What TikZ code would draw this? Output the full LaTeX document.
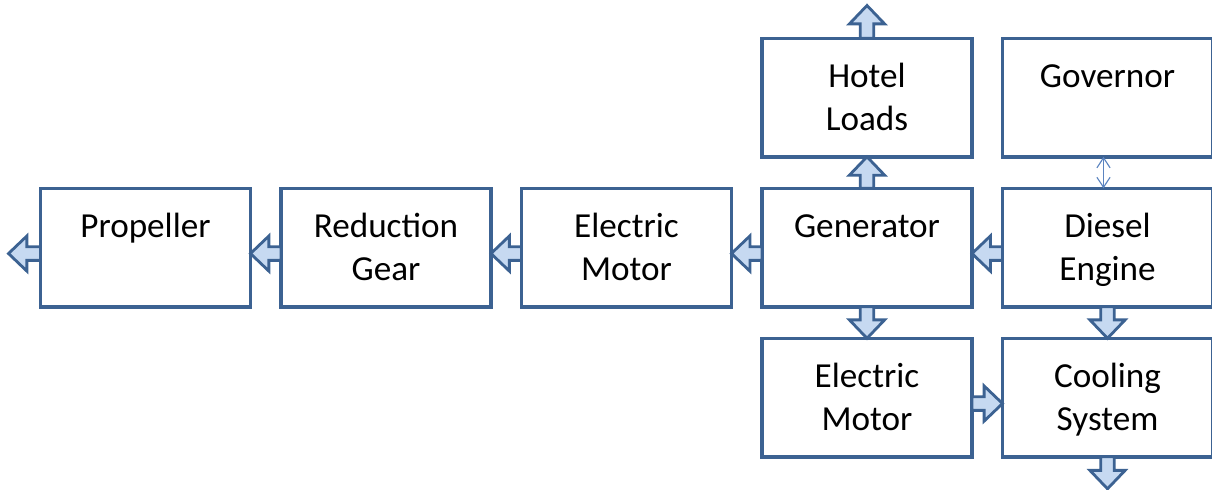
\documentclass[tikz,border=0pt]{standalone}
\usepackage{fontspec}
\setmainfont{Carlito}
\usetikzlibrary{positioning,calc,arrows.meta}

\definecolor{boxblue}{RGB}{60,98,146}
\definecolor{arrowfill}{RGB}{198,217,241}
\definecolor{linkblue}{RGB}{91,132,192}

\newcommand{\shaftw}{0.17cm}
\newcommand{\headw}{0.44cm}
\newcommand{\headl}{0.46cm}

\tikzset{
  unit/.style={draw=boxblue, line width=2.5pt, rectangle, inner sep=0pt, outer sep=0pt,
    text width=5.25cm, align=center, text height=1.225cm, text depth=1.7375cm,
    font=\fontsize{25}{30.6}\selectfont},
  flow/.style={draw=boxblue, fill=arrowfill, line width=2pt, line join=miter,
    to path={($(\tikztostart)!\shaftw!90:(\tikztotarget)$)
      -- ($(\tikztotarget)!\headl!(\tikztostart)!\shaftw!-90:(\tikztostart)$)
      -- ($(\tikztotarget)!\headl!(\tikztostart)!\headw!-90:(\tikztostart)$)
      -- (\tikztotarget)
      -- ($(\tikztotarget)!\headl!(\tikztostart)!\headw!90:(\tikztostart)$)
      -- ($(\tikztotarget)!\headl!(\tikztostart)!\shaftw!90:(\tikztostart)$)
      -- ($(\tikztostart)!\shaftw!-90:(\tikztotarget)$) -- cycle}},
}

\begin{document}
\begin{tikzpicture}
  \useasboundingbox (0,0) rectangle (30.3,-12.25);

  % Drive line, middle row
  \node[unit, anchor=north west] (prop) at (1.0125,-4.7075) {Propeller};
  \node[unit, right=0.7625cm of prop] (gear) {Reduction\\Gear};
  \node[unit, right=0.7625cm of gear] (motor) {Electric\\Motor};
  \node[unit, right=0.7625cm of motor] (gen) {Generator};
  \node[unit, right=0.7625cm of gen] (diesel) {Diesel\\Engine};

  % Top and bottom rows
  \node[unit, above=0.7875cm of gen] (hotel) {Hotel\\Loads};
  \node[unit, above=0.7875cm of diesel] (gov) {Governor};
  \node[unit, below=0.7875cm of gen] (motorb) {Electric\\Motor};
  \node[unit, below=0.7875cm of diesel] (cool) {Cooling\\System};

  % Free ends of the outgoing arrows
  \coordinate (propout) at ([xshift=-0.8cm, yshift=-0.15cm]prop.west);
  \coordinate (hotelout) at ([yshift=0.82cm]hotel.north);
  \coordinate (coolout) at ([yshift=-0.8cm]cool.south);

  % Power flow arrows
  \draw[flow] ([yshift=-0.15cm]diesel.west) to ([yshift=-0.15cm]gen.east);
  \draw[flow] ([yshift=-0.15cm]gen.west) to ([yshift=-0.15cm]motor.east);
  \draw[flow] ([yshift=-0.15cm]motor.west) to ([yshift=-0.15cm]gear.east);
  \draw[flow] ([yshift=-0.15cm]gear.west) to ([yshift=-0.15cm]prop.east);
  \draw[flow] ([yshift=-0.15cm]prop.west) to (propout);
  \draw[flow] (gen.north) to (hotel.south);
  \draw[flow] (hotel.north) to (hotelout);
  \draw[flow] (gen.south) to (motorb.north);
  \draw[flow] (diesel.south) to (cool.north);
  \draw[flow] ([yshift=-0.15cm]motorb.east) to ([yshift=-0.15cm]cool.west);
  \draw[flow] (cool.south) to (coolout);

  % Governor link
  \draw[linkblue, line width=0.8pt, {Straight Barb[length=0.25cm, width=0.33cm]}-{Straight Barb[length=0.25cm, width=0.33cm]}]
    ([xshift=-0.1cm]gov.south) -- ([xshift=-0.1cm]diesel.north);
\end{tikzpicture}
\end{document}
